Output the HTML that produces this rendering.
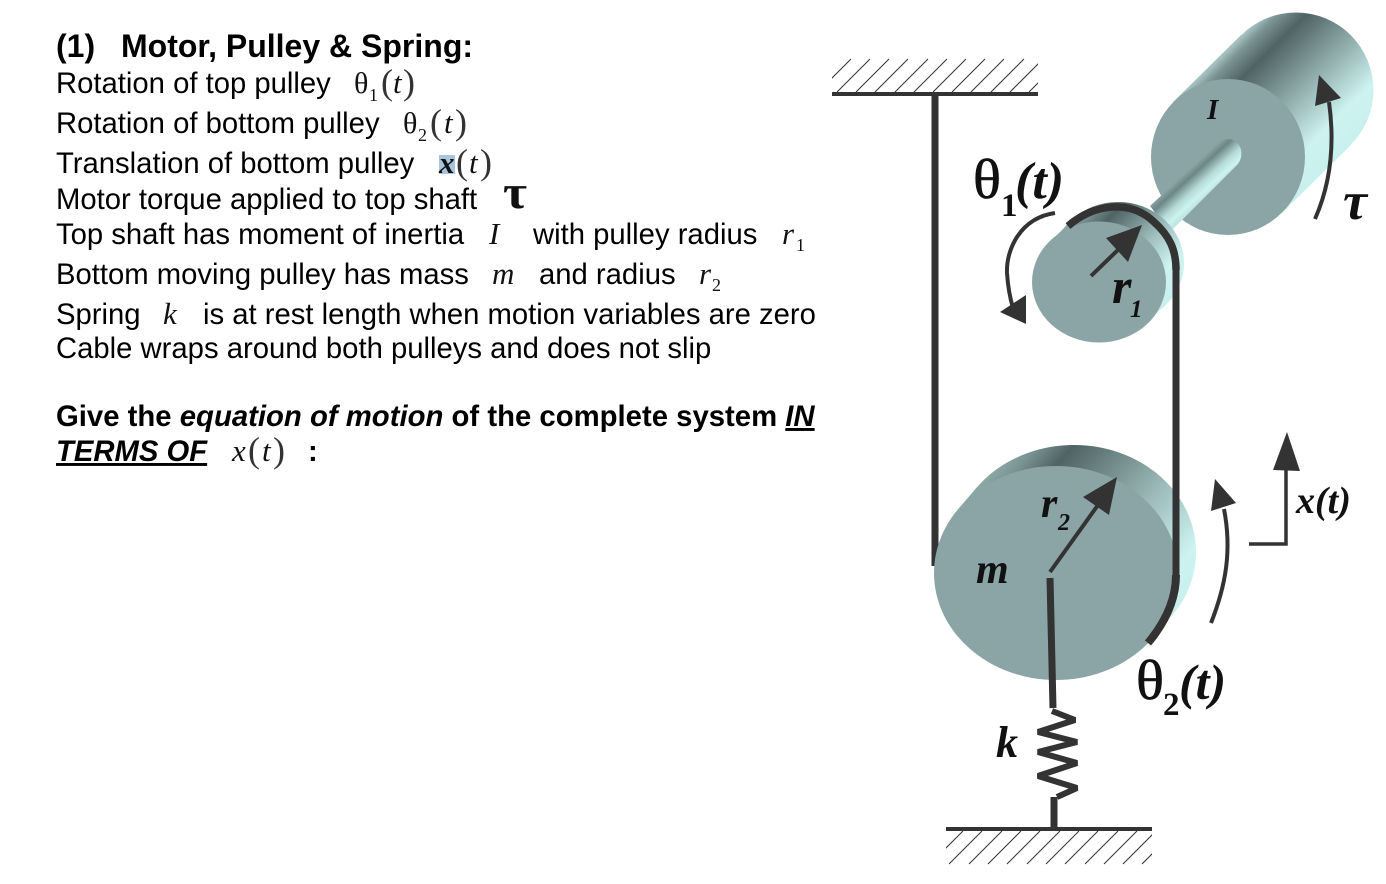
<!DOCTYPE html>
<html><head><meta charset="utf-8">
<style>
html,body{margin:0;padding:0;background:#fff;width:1386px;height:884px;overflow:hidden}
svg{display:block}
.s{font-family:"Liberation Sans",sans-serif;font-size:29.25px;fill:#000}
.b{font-weight:bold}
.m{font-family:"Liberation Serif",serif;font-size:31px;font-style:italic;fill:#111}
.u{font-family:"Liberation Serif",serif;fill:#111}
.p{font-family:"Liberation Serif",serif;font-size:36px;fill:#333}
.l{font-family:"Liberation Serif",serif;font-weight:bold;font-style:italic;fill:#111}
.lb{font-family:"Liberation Serif",serif;font-weight:bold;fill:#111}
.lu{font-family:"Liberation Serif",serif;font-weight:normal;fill:#111;stroke:#111;stroke-width:.7px}
</style></head><body>
<svg width="1386" height="884" viewBox="0 0 1386 884" xmlns="http://www.w3.org/2000/svg">
<defs>
<linearGradient id="g1" gradientUnits="userSpaceOnUse" x1="1208" y1="68" x2="1316" y2="178">
<stop offset="0" stop-color="#a9c6c5"/><stop offset=".07" stop-color="#7a9393"/><stop offset=".2" stop-color="#4f6363"/><stop offset=".6" stop-color="#a0bfbe"/><stop offset=".82" stop-color="#cdf3f0"/><stop offset="1" stop-color="#c8f0ee"/>
</linearGradient>
<linearGradient id="g2" gradientUnits="userSpaceOnUse" x1="1064" y1="227" x2="1154" y2="317">
<stop offset="0" stop-color="#8fa9a9"/><stop offset=".2" stop-color="#4f6363"/><stop offset=".55" stop-color="#a0bfbe"/><stop offset=".8" stop-color="#cdf3f0"/><stop offset="1" stop-color="#c8f0ee"/>
</linearGradient>
<linearGradient id="g3" gradientUnits="userSpaceOnUse" x1="977" y1="486" x2="1153" y2="638">
<stop offset="0" stop-color="#8fa9a9"/><stop offset=".08" stop-color="#7a9393"/><stop offset=".2" stop-color="#4f6363"/><stop offset=".62" stop-color="#9fbebd"/><stop offset=".88" stop-color="#cdf3f0"/><stop offset="1" stop-color="#c8f0ee"/>
</linearGradient>
<linearGradient id="g4" gradientUnits="userSpaceOnUse" x1="1188" y1="170" x2="1209" y2="193">
<stop offset="0" stop-color="#8ba5a6"/><stop offset=".22" stop-color="#6c8686"/><stop offset=".6" stop-color="#b5dbd9"/><stop offset=".85" stop-color="#cdf3f0"/><stop offset="1" stop-color="#bfe6e3"/>
</linearGradient>
<clipPath id="c1"><rect x="832" y="55" width="206" height="40"/></clipPath>
<clipPath id="c2"><rect x="946" y="828" width="206" height="40"/></clipPath>
</defs>

<!-- left text -->
<text class="s b" x="56" y="57" style="font-size:32px">(1)</text>
<text class="s b" x="121" y="57" style="font-size:32px">Motor, Pulley &amp; Spring:</text>
<text class="s" x="56" y="93">Rotation of top pulley</text>
<text class="u" x="354" y="93" font-size="30">θ</text><text class="u" x="369" y="101" font-size="18">1</text>
<text class="p" x="381" y="94">(</text><text class="m" x="393" y="93">t</text><text class="p" x="403" y="94">)</text>
<text class="s" x="56" y="133">Rotation of bottom pulley</text>
<text class="u" x="403" y="133" font-size="30">θ</text><text class="u" x="418" y="141" font-size="18">2</text>
<text class="p" x="430" y="134">(</text><text class="m" x="444" y="133">t</text><text class="p" x="455" y="134">)</text>
<text class="s" x="56" y="173">Translation of bottom pulley</text>
<rect x="439" y="155" width="16" height="19" fill="#a9c4dc"/>
<text class="m" x="439" y="173" style="font-weight:bold">x</text>
<text class="p" x="456" y="174">(</text><text class="m" x="469" y="173">t</text><text class="p" x="480" y="174">)</text>
<text class="s" x="56" y="209">Motor torque applied to top shaft</text>
<text class="u" x="503" y="208" font-size="48" font-weight="bold" textLength="24" lengthAdjust="spacingAndGlyphs">τ</text>
<text class="s" x="56" y="244">Top shaft has moment of inertia</text>
<text class="m" x="489" y="244">I</text>
<text class="s" x="533" y="244">with pulley radius</text>
<text class="m" x="782" y="244">r</text><text class="u" x="796" y="251" font-size="18">1</text>
<text class="s" x="56" y="284">Bottom moving pulley has mass</text>
<text class="m" x="492" y="284">m</text>
<text class="s" x="539" y="284">and radius</text>
<text class="m" x="699" y="284">r</text><text class="u" x="712" y="291" font-size="18">2</text>
<text class="s" x="56" y="324">Spring</text>
<text class="m" x="163" y="324">k</text>
<text class="s" x="203" y="324">is at rest length when motion variables are zero</text>
<text class="s" x="56" y="358">Cable wraps around both pulleys and does not slip</text>
<text class="s b" x="56" y="426" style="font-size:29.3px">Give the <tspan font-style="italic">equation of motion</tspan> of the complete system <tspan font-style="italic" text-decoration="underline">IN</tspan></text>
<text class="s b" x="56" y="461" font-style="italic" text-decoration="underline">TERMS OF</text>
<text class="m" x="232" y="461">x</text><text class="p" x="248" y="462">(</text><text class="m" x="262" y="461">t</text><text class="p" x="273" y="462">)</text>
<text class="s b" x="308" y="461">:</text>

<!-- ceiling -->
<line x1="832" y1="94" x2="1038" y2="94" stroke="#333" stroke-width="4"/>
<g clip-path="url(#c1)" stroke="#333" stroke-width="1">
<path d="M818 92l33-33M837 92l33-33M856 92l33-33M875 92l33-33M895 92l33-33M914 92l33-33M933 92l33-33M952 92l33-33M971 92l33-33M991 92l33-33M1010 92l33-33M1029 92l33-33"/>
</g>
<line x1="935" y1="94" x2="935" y2="566" stroke="#333" stroke-width="7"/>

<!-- big cylinder -->
<circle cx="1296" cy="90" r="77.5" fill="url(#g1)"/>
<polygon points="1173,102 1241,35 1351,145 1283,212" fill="url(#g1)"/>
<ellipse cx="1228" cy="157" rx="77" ry="78" fill="#8ba5a6"/>
<!-- shaft -->
<path d="M1150 206L1220 141Q1228 137 1235 141Q1243 147 1241 157Q1240 162 1237 165L1170 232Z" fill="url(#g4)"/>

<!-- small pulley -->
<ellipse cx="1118" cy="263" rx="66" ry="61" fill="url(#g2)"/>
<polygon points="1054,238 1073,219 1163,307 1144,326" fill="url(#g2)"/>
<polygon points="1180,283 1153,317 1130,300" fill="url(#g2)"/>
<ellipse cx="1099" cy="282" rx="67" ry="60.500" fill="#8ba5a6"/>

<!-- bottom pulley -->
<ellipse cx="1074" cy="552" rx="122" ry="107" fill="url(#g3)"/>
<polygon points="958.500,508.700 976.500,487.700 1171.500,616.300 1153.500,637.300" fill="url(#g3)"/>
<ellipse cx="1056" cy="573" rx="122" ry="107" fill="#8ba5a6"/>

<!-- cable -->
<path d="M1068 226C1095 203 1130 200 1153 221C1170 236 1176 250 1176 270" fill="none" stroke="#333" stroke-width="7.500"/>
<line x1="1176" y1="270" x2="1176" y2="575" stroke="#333" stroke-width="7"/>
<path d="M1176 575C1176 602 1163 625 1148 643" fill="none" stroke="#333" stroke-width="8"/>

<!-- r1 arrow -->
<line x1="1091" y1="276" x2="1122" y2="246" stroke="#333" stroke-width="4"/>
<polygon points="1142,225 1106,238 1128,262" fill="#333"/>
<!-- theta1 arrow -->
<path d="M1055 213C1020 218 1006 250 1007 273C1008 288 1010 298 1013 308" fill="none" stroke="#333" stroke-width="4"/>
<polygon points="1000,312 1026,295 1026,324" fill="#333"/>
<!-- tau arrow -->
<path d="M1315 219C1330 185 1335 145 1329 102" fill="none" stroke="#333" stroke-width="4"/>
<polygon points="1319,75 1315,106 1341,98" fill="#333"/>
<!-- r2 arrow -->
<line x1="1050" y1="572" x2="1103" y2="498" stroke="#333" stroke-width="4"/>
<polygon points="1117,477 1083,497 1109,515" fill="#333"/>
<!-- spring -->
<polyline points="1050,578 1053,708" fill="none" stroke="#333" stroke-width="7"/>
<polyline points="1052,711 1075,720 1038,732 1077,742 1038,752 1077,763 1038,776 1077,788 1057,797" fill="none" stroke="#333" stroke-width="6" stroke-linejoin="bevel"/>
<line x1="1054" y1="797" x2="1054" y2="828" stroke="#333" stroke-width="7"/>
<!-- ground -->
<line x1="946" y1="829" x2="1152" y2="829" stroke="#333" stroke-width="4"/>
<g clip-path="url(#c2)" stroke="#333" stroke-width="1">
<path d="M930 864l33-33M949 864l33-33M969 864l33-33M988 864l33-33M1007 864l33-33M1027 864l33-33M1046 864l33-33M1065 864l33-33M1085 864l33-33M1104 864l33-33M1123 864l33-33"/>
<path d="M1142 864l15-15"/>
</g>
<!-- theta2 arrow -->
<path d="M1211 623C1226 585 1232 550 1224 509" fill="none" stroke="#333" stroke-width="4"/>
<polygon points="1215,479 1211,511 1236,503" fill="#333"/>
<!-- x(t) arrow -->
<path d="M1249 544H1286V468" fill="none" stroke="#333" stroke-width="3.500"/>
<polygon points="1287,432 1273,470 1300,471" fill="#333"/>

<!-- labels -->
<text class="lu" x="973" y="198" font-size="56" textLength="28" lengthAdjust="spacingAndGlyphs">θ</text>
<text class="lb" x="1001" y="216" font-size="33">1</text>
<text class="l" x="1015" y="198" font-size="52">(t)</text>
<text class="l" x="1207" y="119" font-size="29">I</text>
<text class="l" x="1343" y="219" font-size="54">τ</text>
<text class="l" x="1112" y="303" font-size="50">r</text>
<text class="l" x="1130" y="317" font-size="25">1</text>
<text class="l" x="1041" y="517" font-size="42">r</text>
<text class="l" x="1058" y="530" font-size="24">2</text>
<text class="l" x="976" y="583" font-size="42">m</text>
<text class="l" x="996" y="757" font-size="44">k</text>
<text class="lu" x="1136" y="699" font-size="56" textLength="28" lengthAdjust="spacingAndGlyphs">θ</text>
<text class="lb" x="1163" y="715" font-size="33">2</text>
<text class="l" x="1179" y="699" font-size="50">(t)</text>
<text class="l" x="1296" y="513" font-size="38">x(t)</text>
</svg>
</body></html>
